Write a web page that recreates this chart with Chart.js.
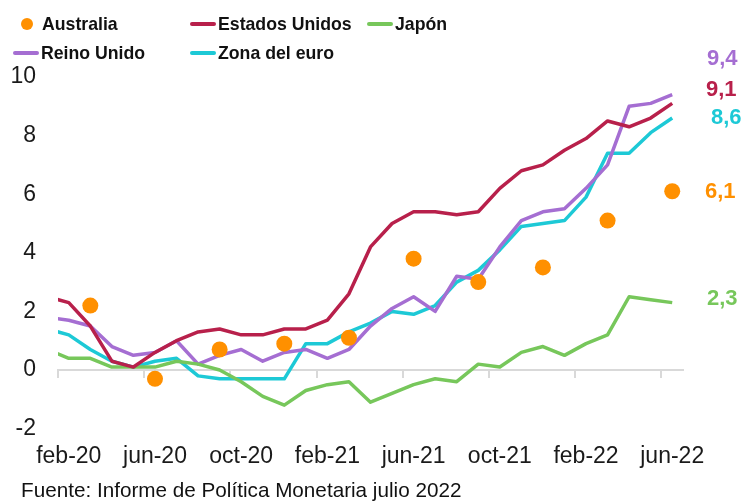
<!DOCTYPE html>
<html>
<head>
<meta charset="utf-8">
<script src="https://cdn.jsdelivr.net/npm/chart.js@4.4.1/dist/chart.umd.min.js"></script>
<style>
  body { margin: 0; background: #fff; }
  #wrap { position: relative; width: 743px; height: 501px; font-family: 'Liberation Sans', Arial, sans-serif; color: #111; }
  #chart { position: absolute; left: 0; top: 0; }
  .item { position: absolute; height: 24px; display: flex; align-items: center; font-weight: bold; font-size: 17.7px; line-height: 24px; white-space: nowrap; }
  .line { width: 26px; height: 4px; margin-right: 2px; border-radius: 2px; }
  .dot { width: 12px; height: 12px; border-radius: 50%; margin-right: 9px; }
  #fuente { position: absolute; left: 21px; top: 478px; font-size: 20.7px; line-height: 24px; white-space: nowrap; }
</style>
</head>
<body>
<div id="wrap">
  <canvas id="chart" width="743" height="501"></canvas>
  <div id="legend"></div>
  <div id="fuente">Fuente: Informe de Política Monetaria julio 2022</div>
</div>
<script>
// meses (ene-20 queda fuera del eje, solo se ve el tramo recortado)
const meses = [
  'ene-20', 'feb-20', 'mar-20', 'abr-20', 'may-20', 'jun-20', 'jul-20', 'ago-20', 'sep-20', 'oct-20', 'nov-20', 'dic-20',
  'ene-21', 'feb-21', 'mar-21', 'abr-21', 'may-21', 'jun-21', 'jul-21', 'ago-21', 'sep-21', 'oct-21', 'nov-21', 'dic-21',
  'ene-22', 'feb-22', 'mar-22', 'abr-22', 'may-22', 'jun-22'
];

const australia = [null, null, 2.2, null, null, -0.3, null, null, 0.7, null, null, 0.9,
  null, null, 1.1, null, null, 3.8, null, null, 3.0, null, null, 3.5,
  null, null, 5.1, null, null, 6.1];
const estadosUnidos = [2.5, 2.3, 1.5, 0.3, 0.1, 0.6, 1.0, 1.3, 1.4, 1.2, 1.2, 1.4,
  1.4, 1.7, 2.6, 4.2, 5.0, 5.4, 5.4, 5.3, 5.4, 6.2, 6.8, 7.0,
  7.5, 7.9, 8.5, 8.3, 8.6, 9.1];
const japon = [0.7, 0.4, 0.4, 0.1, 0.1, 0.1, 0.3, 0.2, 0.0, -0.4, -0.9, -1.2,
  -0.7, -0.5, -0.4, -1.1, -0.8, -0.5, -0.3, -0.4, 0.2, 0.1, 0.6, 0.8,
  0.5, 0.9, 1.2, 2.5, 2.4, 2.3];
const reinoUnido = [1.8, 1.7, 1.5, 0.8, 0.5, 0.6, 1.0, 0.2, 0.5, 0.7, 0.3, 0.6,
  0.7, 0.4, 0.7, 1.5, 2.1, 2.5, 2.0, 3.2, 3.1, 4.2, 5.1, 5.4,
  5.5, 6.2, 7.0, 9.0, 9.1, 9.4];
const zonaEuro = [1.4, 1.2, 0.7, 0.3, 0.1, 0.3, 0.4, -0.2, -0.3, -0.3, -0.3, -0.3,
  0.9, 0.9, 1.3, 1.6, 2.0, 1.9, 2.2, 3.0, 3.4, 4.1, 4.9, 5.0,
  5.1, 5.9, 7.4, 7.4, 8.1, 8.6];

const yTicks = [-2, 0, 2, 4, 6, 8, 10];

const colores = {
  australia: '#FF9000',
  eeuu: '#B8204B',
  japon: '#77C75B',
  ru: '#A56ED2',
  euro: '#1DC9D6'
};

Chart.defaults.font.family = "'Liberation Sans', Arial, sans-serif";

function linea(label, data, color, dx, dy) {
  return {
    label: label, data: data, borderColor: color, backgroundColor: color,
    borderWidth: 3.5, pointRadius: 0, tension: 0, borderJoinStyle: 'round',
    clip: 0, endDx: dx, endDy: dy
  };
}

const datasets = [
  {
    label: 'Australia', data: australia, showLine: false,
    pointRadius: 8, pointBorderWidth: 0, backgroundColor: colores.australia,
    borderColor: colores.australia, endDx: 22, endDy: 1, esPunto: true
  },
  linea('Estados Unidos', estadosUnidos, colores.eeuu, 23, -13),
  linea('Japón', japon, colores.japon, 24, -4),
  linea('Reino Unido', reinoUnido, colores.ru, 24, -36),
  linea('Zona del euro', zonaEuro, colores.euro, 28, 0)
];

// etiquetas con el ultimo dato a la derecha
const etiquetasFinales = {
  id: 'etiquetasFinales',
  afterDatasetsDraw(chart) {
    const {ctx, chartArea, scales} = chart;
    ctx.save();
    ctx.font = "bold 22px 'Liberation Sans', Arial, sans-serif";
    ctx.textAlign = 'left';
    ctx.textBaseline = 'middle';
    chart.data.datasets.forEach(ds => {
      const v = ds.data[ds.data.length - 1];
      ctx.fillStyle = ds.backgroundColor;
      ctx.fillText(v.toFixed(1).replace('.', ','), chartArea.right + ds.endDx, scales.y.getPixelForValue(v) + ds.endDy);
    });
    ctx.restore();
  }
};

const marcaCada4 = ctx => (ctx.index % 4 === 0 ? '#d9d9d9' : 'rgba(0,0,0,0)');

new Chart(document.getElementById('chart'), {
  type: 'line',
  data: { labels: meses, datasets: datasets },
  plugins: [etiquetasFinales],
  options: {
    responsive: false,
    animation: false,
    layout: { padding: { top: 77, right: 60, bottom: 32.4, left: 0 } },
    plugins: {
      legend: { display: false },
      tooltip: { enabled: false }
    },
    scales: {
      x: {
        type: 'category', min: 'feb-20', max: 'jun-22', offset: true,
        grid: { display: false, drawTicks: false },
        border: { display: false },
        ticks: {
          autoSkip: false, maxRotation: 0, padding: 14, color: '#1a1a1a',
          font: { size: 23 },
          callback: function (v, i) { return i % 4 === 0 ? this.getLabelForValue(v) : ''; }
        },
        afterFit: s => { s.height = 40; }
      },
      x0: {
        axis: 'x', type: 'category', min: 'feb-20', max: 'jun-22', offset: true,
        position: { y: 0 },
        ticks: { display: false },
        grid: { offset: true, drawOnChartArea: false, drawTicks: true, tickLength: 7, lineWidth: 2, color: marcaCada4, tickColor: marcaCada4 },
        border: { display: true, color: '#d9d9d9', width: 2 },
        afterFit: s => { s.height = 0; }
      },
      y: {
        min: -2, max: 10,
        afterBuildTicks: s => { s.ticks = yTicks.map(v => ({ value: v })); },
        ticks: { padding: 22, color: '#1a1a1a', font: { size: 23 } },
        grid: { display: false, drawTicks: false },
        border: { display: false },
        afterFit: s => { s.width = 58; }
      }
    }
  }
});

// leyenda en dos filas como en el original
const posLeyenda = [[21, 11.7], [190, 11.7], [367, 11.7], [13, 41.3], [190, 41.3]];
const leyenda = document.getElementById('legend');
datasets.forEach((ds, i) => {
  const item = document.createElement('div');
  item.className = 'item';
  item.style.left = posLeyenda[i][0] + 'px';
  item.style.top = posLeyenda[i][1] + 'px';
  const marca = document.createElement('span');
  marca.className = ds.esPunto ? 'dot' : 'line';
  marca.style.background = ds.backgroundColor;
  const txt = document.createElement('span');
  txt.textContent = ds.label;
  item.appendChild(marca);
  item.appendChild(txt);
  leyenda.appendChild(item);
});
</script>
</body>
</html>
